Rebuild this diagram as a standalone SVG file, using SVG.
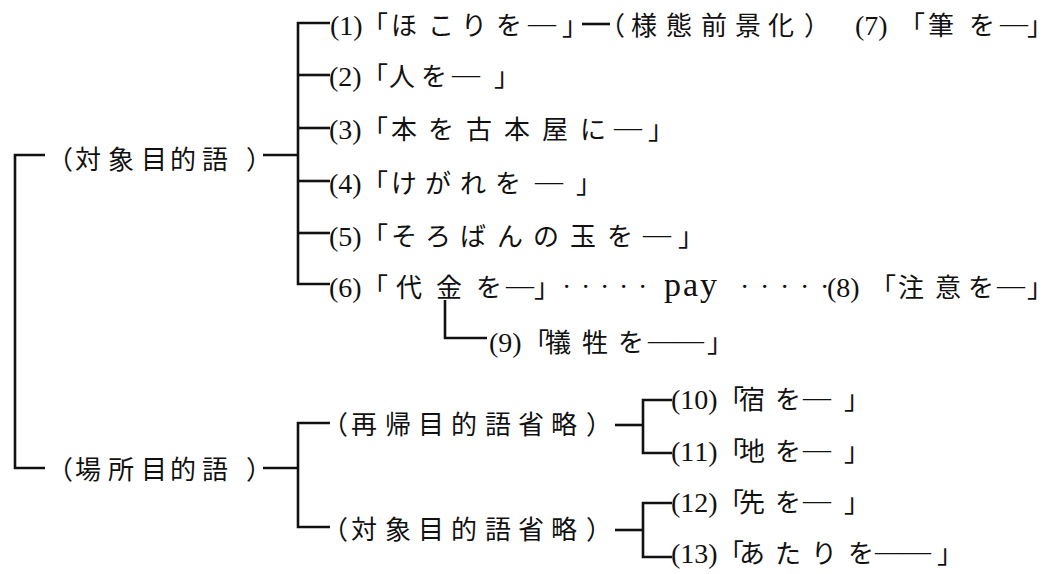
<svg xmlns="http://www.w3.org/2000/svg" width="1053" height="574" viewBox="0 0 1053 574">
<style>
.j{font-family:"Noto Sans CJK JP","Noto Sans CJK SC",sans-serif;font-size:26px;fill:#111}
.n{font-family:"Liberation Serif","Times New Roman",serif;font-size:28px;fill:#111}
.d{font-family:"Liberation Serif","Times New Roman",serif;font-size:28px}
.p{font-family:"Liberation Serif","Times New Roman",serif;font-size:34px;letter-spacing:2px;fill:#111}
.ln{stroke:#111;stroke-width:2.6;fill:none}
</style>
<rect width="1053" height="574" fill="#fff"/>
<g id="connectors">
<polyline class="ln" points="45,155 15,155 15,468 45,468"/>
<line class="ln" x1="263" y1="155" x2="298" y2="155"/>
<polyline class="ln" points="330,23 298,23 298,284 330,284"/>
<line class="ln" x1="298" y1="75" x2="330" y2="75"/>
<line class="ln" x1="298" y1="128" x2="330" y2="128"/>
<line class="ln" x1="298" y1="181" x2="330" y2="181"/>
<line class="ln" x1="298" y1="233" x2="330" y2="233"/>
<line class="ln" x1="582" y1="24" x2="610" y2="24"/>
<polyline class="ln" points="445,300 445,338 487,338"/>
<line class="ln" x1="263" y1="468" x2="298" y2="468"/>
<polyline class="ln" points="330,423 298,423 298,527 330,527"/>
<line class="ln" x1="615" y1="425" x2="643" y2="425"/>
<polyline class="ln" points="672,400 643,400 643,453 672,453"/>
<line class="ln" x1="615" y1="530" x2="643" y2="530"/>
<polyline class="ln" points="672,503 643,503 643,557 672,557"/>
</g>
<g id="n-taisho"><text class="j" y="169" x="47 75 108 141 170 202 246">（対象目的語）</text></g>
<g id="n-basho"><text class="j" y="479" x="47 75 108 141 170 202 246">（場所目的語）</text></g>
<g id="n1"><text class="j" y="35" x="330 339.3 353.3 362 391 428 461 496 528 562"><tspan class="n">(1)</tspan>「ほこりを<tspan class="d" dy="-3">—</tspan><tspan dy="3">」</tspan></text></g>
<g id="n-yotai"><text class="j" y="35" x="599 631 666 701 735 768 804">（様態前景化）</text></g>
<g id="n7"><text class="j" y="35" x="855 864.3 878.3 899 928 969 1000 1027"><tspan class="n">(7)</tspan>「筆を<tspan class="d" dy="-3">—</tspan><tspan dy="3">」</tspan></text></g>
<g id="n2"><text class="j" y="86" x="329 338.3 352.3 362 389 421 452 494"><tspan class="n">(2)</tspan>「人を<tspan class="d" dy="-3">—</tspan><tspan dy="3">」</tspan></text></g>
<g id="n3"><text class="j" y="139" x="329 338.3 352.3 362 391 428 466 504 542 580 614 648"><tspan class="n">(3)</tspan>「本を古本屋に<tspan class="d" dy="-3">—</tspan><tspan dy="3">」</tspan></text></g>
<g id="n4"><text class="j" y="193" x="329 338.3 352.3 362 391 425 460 495 535 576"><tspan class="n">(4)</tspan>「けがれを<tspan class="d" dy="-3">—</tspan><tspan dy="3">」</tspan></text></g>
<g id="n5"><text class="j" y="246" x="329 338.3 352.3 362 391 425 460 497 533 570 607 643 678"><tspan class="n">(5)</tspan>「そろばんの玉を<tspan class="d" dy="-3">—</tspan><tspan dy="3">」</tspan></text></g>
<g id="n6"><text class="j" y="297" x="329 338.3 352.3 362 396 436 476 506 534"><tspan class="n">(6)</tspan>「代金を<tspan class="d" dy="-3">—</tspan><tspan dy="3">」</tspan></text></g>
<g id="n-pay"><text class="n" y="296" x="562 581 600 619 638">·····</text><text class="p" x="664" y="296">pay</text><text class="n" y="296" x="740 760 780 800 820">·····</text></g>
<g id="n8"><text class="j" y="297" x="827 836.3 850.3 870 898 935 968 997 1027"><tspan class="n">(8)</tspan>「注意を<tspan class="d" dy="-3">—</tspan><tspan dy="3">」</tspan></text></g>
<g id="n9"><text class="j" y="352" x="489 498.3 512.3 523 545 582 618 648 676 707"><tspan class="n">(9)</tspan>「犠牲を<tspan class="d" dy="-3">——</tspan><tspan dy="3">」</tspan></text></g>
<g id="n-saiki"><text class="j" y="434" x="322 351 385 418 451 485 518 551 586">（再帰目的語省略）</text></g>
<g id="n-taisho-sho"><text class="j" y="539" x="322 351 385 418 451 485 518 551 586">（対象目的語省略）</text></g>
<g id="n10"><text class="j" y="409" x="671 680.3 694.3 708.3 718 739 775 803 844"><tspan class="n">(10)</tspan>「宿を<tspan class="d" dy="-3">—</tspan><tspan dy="3">」</tspan></text></g>
<g id="n11"><text class="j" y="461" x="671 680.3 694.3 708.3 718 739 775 803 844"><tspan class="n">(11)</tspan>「地を<tspan class="d" dy="-3">—</tspan><tspan dy="3">」</tspan></text></g>
<g id="n12"><text class="j" y="512" x="671 680.3 694.3 708.3 718 739 775 803 844"><tspan class="n">(12)</tspan>「先を<tspan class="d" dy="-3">—</tspan><tspan dy="3">」</tspan></text></g>
<g id="n13"><text class="j" y="563" x="671 680.3 694.3 708.3 718 739 775 811 848 875 903 937"><tspan class="n">(13)</tspan>「あたりを<tspan class="d" dy="-3">——</tspan><tspan dy="3">」</tspan></text></g>
</svg>
